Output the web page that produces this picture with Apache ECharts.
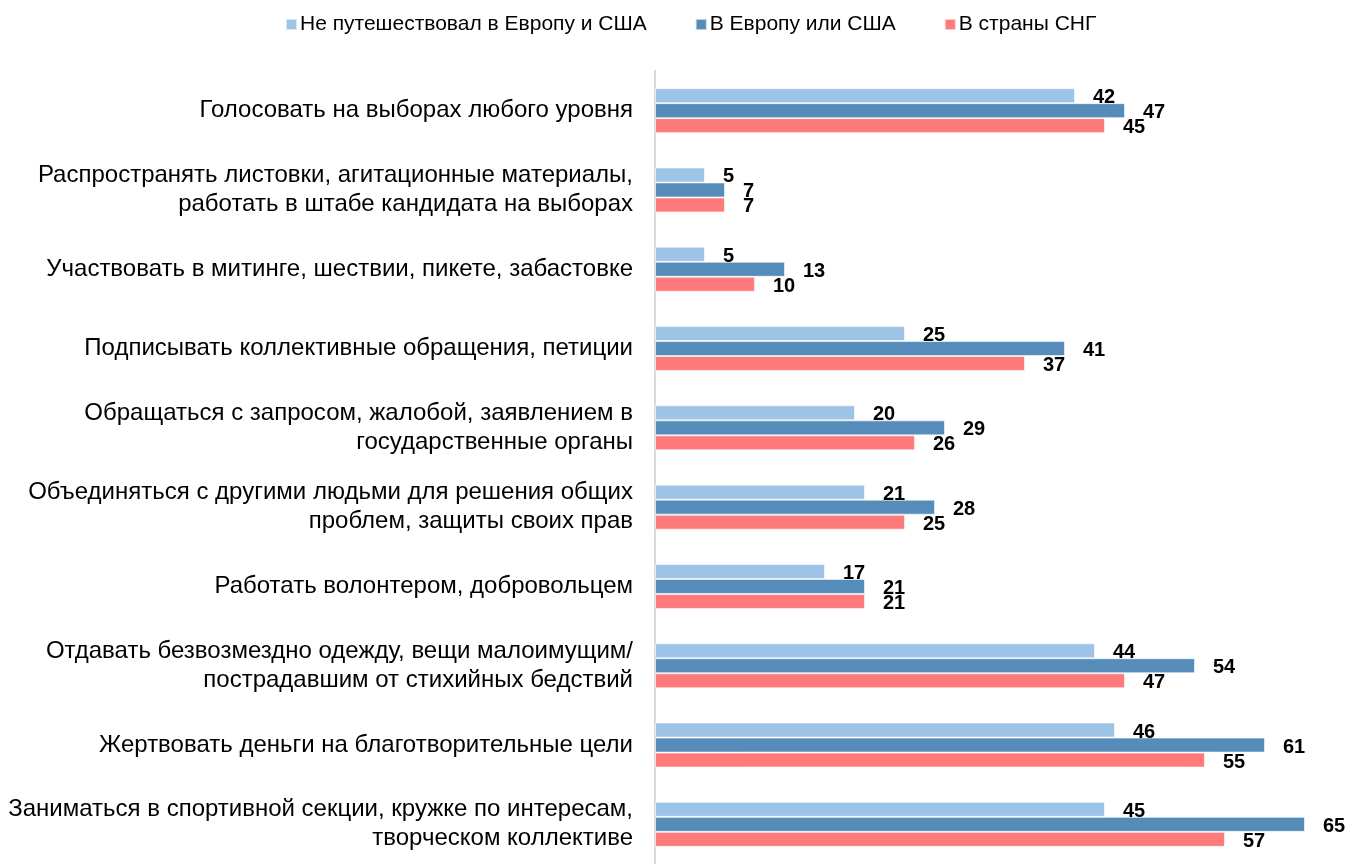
<!DOCTYPE html>
<html>
<head>
    <meta charset="utf-8">
    <title>ECharts</title>
    <script src="https://cdn.jsdelivr.net/npm/echarts@6/dist/echarts.min.js"></script>
    <style>
        html, body, #main {
            width: 100%;
            height: 100%;
            margin: 0;
            background: #fff;
        }
    </style>
</head>
<body>
    <div id="main"></div>
    <script type="text/javascript">
        var categories = [
            'Голосовать на выборах любого уровня',
            'Распространять листовки, агитационные материалы,\nработать в штабе кандидата на выборах',
            'Участвовать в митинге, шествии, пикете, забастовке',
            'Подписывать коллективные обращения, петиции',
            'Обращаться с запросом, жалобой, заявлением в\nгосударственные органы',
            'Объединяться с другими людьми для решения общих\nпроблем, защиты своих прав',
            'Работать волонтером, добровольцем',
            'Отдавать безвозмездно одежду, вещи малоимущим/\nпострадавшим от стихийных бедствий',
            'Жертвовать деньги на благотворительные цели',
            'Заниматься в спортивной секции, кружке по интересам,\nтворческом коллективе'
        ];
        var seriesNames = ['Не путешествовал в Европу и США', 'В Европу или США', 'В страны СНГ'];
        var noTravel = [42, 5, 5, 25, 20, 21, 17, 44, 46, 45];
        var europeUsa = [47, 7, 13, 41, 29, 28, 21, 54, 61, 65];
        var cis = [45, 7, 10, 37, 26, 25, 21, 47, 55, 57];
        var colors = ['#9dc3e6', '#558cba', '#ff7a7a'];

        var myChart = echarts.init(document.getElementById('main'));

        function makeSeries(name, data, color) {
            return {
                name: name,
                type: 'bar',
                data: data,
                barWidth: 15,
                barGap: '0%',
                itemStyle: {
                    color: color,
                    borderColor: 'rgba(255,255,255,0.6)',
                    borderWidth: 1
                },
                label: {
                    show: true,
                    position: 'right',
                    distance: 18,
                    offset: [0, 2],
                    color: '#000',
                    fontWeight: 'bold',
                    fontSize: 20,
                    fontFamily: 'Liberation Sans, Arial, sans-serif'
                }
            };
        }

        var option = {
            animation: false,
            textStyle: { fontFamily: 'Liberation Sans, Arial, sans-serif' },
            legend: {
                top: 9,
                left: 280,
                icon: 'rect',
                itemWidth: 11,
                itemHeight: 11,
                itemGap: 48,
                textStyle: { fontSize: 21, color: '#000', padding: [0, 0, 0, -2] },
                data: seriesNames
            },
            grid: {
                left: 655,
                right: 52,
                top: 71,
                bottom: -5,
                containLabel: false
            },
            xAxis: {
                type: 'value',
                min: 0,
                max: 65,
                show: false,
                splitLine: { show: false }
            },
            yAxis: {
                type: 'category',
                inverse: true,
                data: categories,
                axisTick: { show: false },
                axisLine: { show: true, lineStyle: { color: '#d9d9d9', width: 2 } },
                axisLabel: {
                    margin: 22,
                    fontSize: 24,
                    color: '#000',
                    lineHeight: 29,
                    padding: [5, 0, 0, 0],
                    align: 'right'
                }
            },
            series: [
                makeSeries(seriesNames[0], noTravel, colors[0]),
                makeSeries(seriesNames[1], europeUsa, colors[1]),
                makeSeries(seriesNames[2], cis, colors[2])
            ]
        };
        myChart.setOption(option, true);
    </script>
</body>
</html>
